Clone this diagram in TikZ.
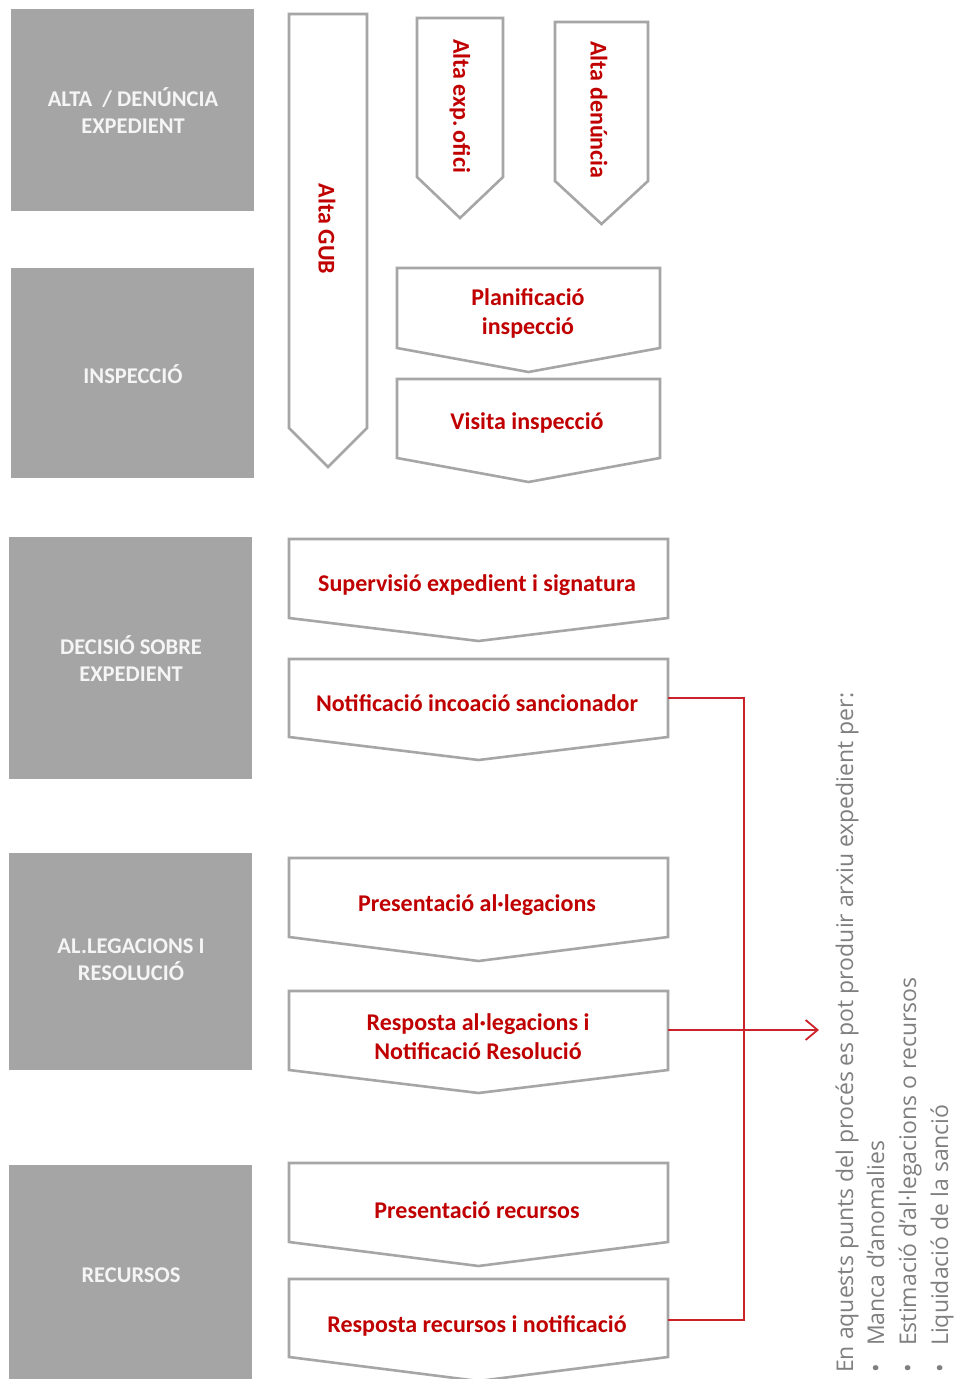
\documentclass[tikz,border=0pt]{standalone}
\usepackage{fontspec}
\setmainfont{Carlito}
\newfontfamily\opensans{Open Sans}
\usetikzlibrary{arrows.meta}
\definecolor{boxgray}{HTML}{A5A5A5}
\definecolor{chevgray}{HTML}{A6A6A6}
\definecolor{txtred}{HTML}{C00000}
\definecolor{linered}{HTML}{CC2229}
\definecolor{notegray}{HTML}{7F7F7F}
\newcommand\mychev[5]{\draw[chev] (#1,#3) -- (#2,#3) -- (#2,#4) -- ({(#1+#2)/2},#5) -- (#1,#4) -- cycle;}
\begin{document}
\begin{tikzpicture}[x=1pt,y=-1pt,
  phase/.style={fill=boxgray,draw=none},
  phasetxt/.style={text=white!96!black,font=\bfseries\fontsize{22.5}{27}\selectfont,align=center},
  chev/.style={draw=chevgray,line width=2.6pt,fill=white,line join=miter},
  redtxt/.style={text=txtred,font=\bfseries\fontsize{24}{29}\selectfont,align=center},
  vredtxt/.style={redtxt,rotate=-90},
  link/.style={draw=linered,line width=1.8pt},
  note/.style={text=notegray,font=\opensans\fontsize{23}{26}\selectfont,rotate=90,anchor=base west,inner sep=0pt}]
\useasboundingbox (0,0) rectangle (957,1379);
\fill[white] (0,0) rectangle (957,1379);
% phase boxes
\fill[phase] (11,9) rectangle (254,211);
\node[phasetxt] (p1) at (133,111) {ALTA \ / DENÚNCIA\\EXPEDIENT};
\fill[phase] (11,268) rectangle (254,478);
\node[phasetxt] (p2) at (133,374) {INSPECCIÓ};
\fill[phase] (9,537) rectangle (252,779);
\node[phasetxt] (p3) at (131,659) {DECISIÓ SOBRE\\EXPEDIENT};
\fill[phase] (9,853) rectangle (252,1070);
\node[phasetxt] (p4) at (131,960) {AL.LEGACIONS I\\RESOLUCIÓ};
\fill[phase] (9,1165) rectangle (252,1385);
\node[phasetxt] (p5) at (131,1275) {RECURSOS};
% vertical chevrons
\mychev{289}{367}{14}{428}{467}
\node[vredtxt] (gub) at (327,229) {Alta GUB};
\mychev{417}{503}{18}{177}{218}
\node[vredtxt] (ofici) at (460,106) {Alta exp.\,ofici};
\mychev{555}{648}{22}{181}{224}
\node[vredtxt] (denun) at (599,110) {Alta denúncia};
% horizontal chevrons
\mychev{397}{660}{268}{348}{372}
\node[redtxt] (plan) at (528,313) {Planificació\\inspecció};
\mychev{397}{660}{379}{458}{482}
\node[redtxt] (visita) at (527,423) {Visita inspecció};
\mychev{289}{668}{539}{618}{641}
\node[redtxt] (superv) at (477,585) {Supervisió expedient i signatura};
\mychev{289}{668}{659}{737}{760}
\node[redtxt] (notif) at (477,703) {Notificació incoació sancionador};
\mychev{289}{668}{858}{937}{961}
\node[redtxt] (presal) at (477,905) {Presentació al·legacions};
\mychev{289}{668}{991}{1070}{1093}
\node[redtxt] (respal) at (478,1037) {Resposta al·legacions i\\Notificació Resolució};
\mychev{289}{668}{1163}{1242}{1266}
\node[redtxt] (presrec) at (477,1210) {Presentació recursos};
\mychev{289}{668}{1279}{1357}{1381}
\node[redtxt] (resprec) at (477,1326) {Resposta recursos i notificació};
% connectors
\coordinate (notifR) at (668,698);
\coordinate (respalR) at (668,1030);
\coordinate (resprecR) at (668,1320);
\coordinate (busTop) at (744,698);
\coordinate (busBot) at (744,1320);
\coordinate (arrowEnd) at (819,1030);
\draw[link] (notifR) -- (busTop) -- (busBot) -- (resprecR);
\draw[link,-{Straight Barb[length=12pt,width=20pt,line width=1.8pt]}] (respalR) -- (arrowEnd);
% note
\node[note] (n1) at (853,1373) {En aquests punts del procés es pot produir arxiu expedient per:};
\node[note] (n2b) at (884,1373) {•};
\node[note] (n2) at (884,1346) {Manca d’anomalies};
\node[note] (n3b) at (916,1373) {•};
\node[note] (n3) at (916,1346) {Estimació d’al·legacions o recursos};
\node[note] (n4b) at (948,1373) {•};
\node[note] (n4) at (948,1346) {Liquidació de la sanció};
\end{tikzpicture}
\end{document}
